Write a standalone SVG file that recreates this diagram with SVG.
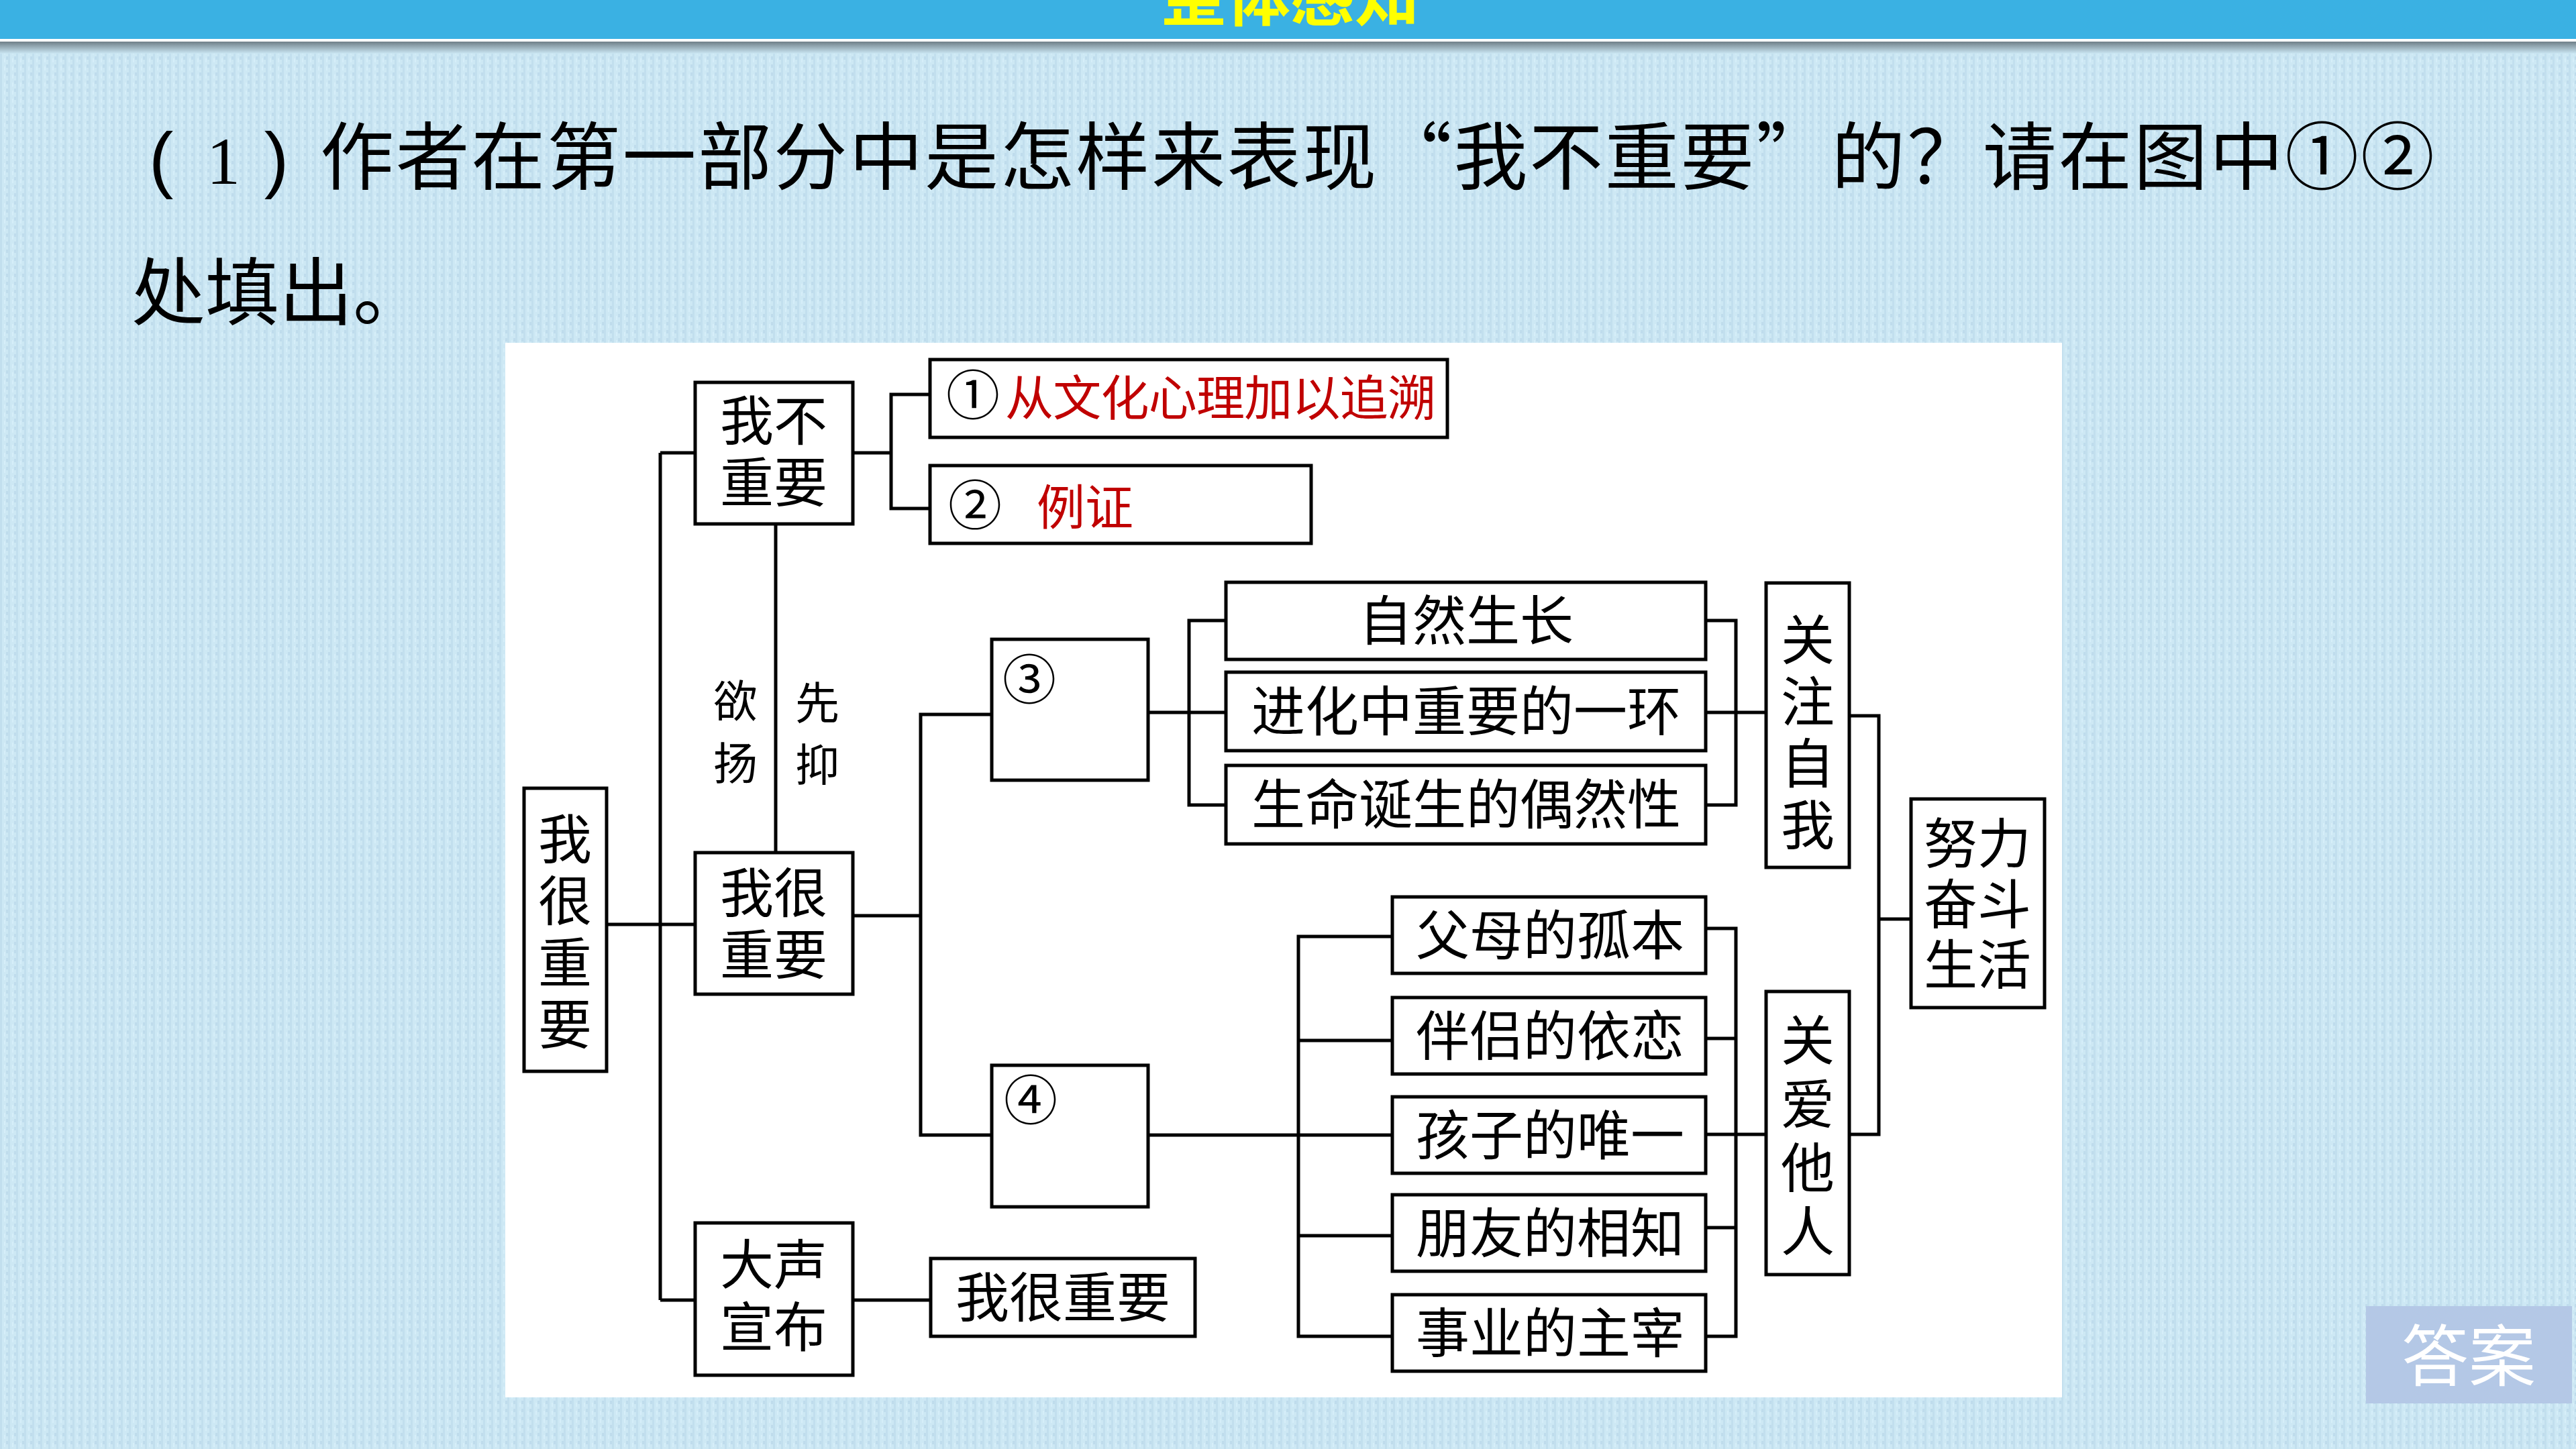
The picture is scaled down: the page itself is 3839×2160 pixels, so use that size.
<svg xmlns="http://www.w3.org/2000/svg" width="3839" height="2160" viewBox="0 0 3839 2160">
<defs>
<linearGradient id="shadow" x1="0" y1="0" x2="0" y2="1">
<stop offset="0" stop-color="#6f7f88"/>
<stop offset="1" stop-color="#cae6f3"/>
</linearGradient>
<pattern id="tex" width="12" height="12" patternUnits="userSpaceOnUse">
<rect width="12" height="12" fill="#cde8f4"/>
<rect x="0" y="0" width="3" height="12" fill="#c2dfee"/>
<rect x="6" y="3" width="2" height="6" fill="#d6eef9"/>
<rect x="9" y="0" width="3" height="5" fill="#bfdcec"/>
</pattern>
</defs>
<style>
.box{fill:#ffffff;stroke:#000000;stroke-width:5}
.t{font-family:"Noto Sans CJK SC","Noto Sans",sans-serif;font-size:80px;fill:#000000}
.tm{text-anchor:middle}
.v{writing-mode:vertical-rl;text-anchor:middle}
.red{fill:#c00000;font-size:72px}
.num{font-size:80px}
.lbl{font-size:66px}
.q{font-family:"Noto Sans CJK SC","Noto Sans",sans-serif;font-size:110px;fill:#000000}
.conn{fill:none;stroke:#000000;stroke-width:5}
</style>
<rect x="0" y="0" width="3839" height="2160" fill="url(#tex)"/>
<g id="header">
<rect x="0" y="0" width="3839" height="58" fill="#3ab1e3"/>
<rect x="0" y="58" width="3839" height="4" fill="#ffffff"/>
<rect x="0" y="62" width="3839" height="18" fill="url(#shadow)"/>
<text x="1923" y="30" text-anchor="middle" style="font-family:'Noto Sans CJK SC',sans-serif;font-size:96px;font-weight:700;fill:#ffff00">整体感知</text>
</g>
<g id="question">
<text x="240" y="274" text-anchor="middle" style="font-family:'Liberation Sans',sans-serif;font-size:110px;fill:#000">(</text>
<text x="333" y="274" text-anchor="middle" style="font-family:'Liberation Serif',serif;font-size:100px;fill:#000">1</text>
<text x="412" y="274" text-anchor="middle" style="font-family:'Liberation Sans',sans-serif;font-size:110px;fill:#000">)</text>
<text x="477" y="274" class="q" textLength="3151" lengthAdjust="spacing">作者在第一部分中是怎样来表现“我不重要”的？请在图中①②</text>
<text x="196" y="476" class="q">处填出。</text>
</g>
<rect id="panel" x="753" y="511" width="2320" height="1572" fill="#ffffff"/>
<g id="connectors">
<path class="conn" d="M1271,675 H1328 M1386,588 H1328 V758 H1386"/>
<path class="conn" d="M984,675 V1938 M984,675 H1036 M904,1378 H1036 M984,1938 H1036"/>
<path class="conn" d="M1156,781 V1271"/>
<path class="conn" d="M1271,1365 H1372 M1478,1065 H1372 V1692 H1478"/>
<path class="conn" d="M1711,1062 H1827 M1827,925 H1772 V1200 H1827"/>
<path class="conn" d="M2542,925 H2587 V1200 H2542 M2542,1062 H2632"/>
<path class="conn" d="M2756,1067 H2800 V1691 H2756 M2800,1370 H2848"/>
<path class="conn" d="M1711,1692 H2075 M2075,1396 H1935 V1992 H2075 M1935,1551 H2075 M1935,1842 H2075"/>
<path class="conn" d="M2542,1384 H2587 V1992 H2542 M2587,1548 H2542 M2587,1830 H2542 M2542,1691 H2632"/>
<path class="conn" d="M1271,1938 H1387"/>
</g>
<g id="n_wohenzhongyao_v">
<rect class="box" x="781" y="1175" width="123" height="422"/>
<text class="t v" x="842" y="1394" style="letter-spacing:12px">我很重要</text>
</g>
<g id="n_wobuzhongyao">
<rect class="box" x="1036" y="570" width="235" height="211"/>
<text class="t tm" x="1153" y="656">我不<tspan x="1153" dy="92">重要</tspan></text>
</g>
<g id="n_1">
<rect class="box" x="1386" y="536" width="771" height="116"/>
<text class="t num" x="1410" y="618">①</text>
<text class="t red" x="1498" y="619" textLength="642" lengthAdjust="spacing">从文化心理加以追溯</text>
</g>
<g id="n_2">
<rect class="box" x="1386" y="694" width="568" height="116"/>
<text class="t num" x="1413" y="782">②</text>
<text class="t red" x="1545" y="782">例证</text>
</g>
<g id="label_yuyang">
<text class="t lbl v" x="1096" y="1104" style="letter-spacing:27px">欲扬</text>
</g>
<g id="label_xianyi">
<text class="t lbl v" x="1218" y="1106" style="letter-spacing:26px">先抑</text>
</g>
<g id="n_wohen">
<rect class="box" x="1036" y="1271" width="235" height="211"/>
<text class="t tm" x="1153" y="1360">我很<tspan x="1153" dy="92">重要</tspan></text>
</g>
<g id="n_dasheng">
<rect class="box" x="1036" y="1823" width="235" height="227"/>
<text class="t tm" x="1153" y="1914">大声<tspan x="1153" dy="93">宣布</tspan></text>
</g>
<g id="n_final">
<rect class="box" x="1387" y="1876" width="394" height="116"/>
<text class="t tm" x="1584" y="1963">我很重要</text>
</g>
<g id="n_3">
<rect class="box" x="1478" y="953" width="233" height="210"/>
<text class="t num tm" x="1534" y="1042">③</text>
</g>
<g id="n_4">
<rect class="box" x="1478" y="1588" width="233" height="211"/>
<text class="t num tm" x="1536" y="1669">④</text>
</g>
<g id="n_ziran">
<rect class="box" x="1827" y="868" width="715" height="115"/>
<text class="t tm" x="2185" y="954">自然生长</text>
</g>
<g id="n_jinhua">
<rect class="box" x="1827" y="1002" width="715" height="117"/>
<text class="t tm" x="2185" y="1089">进化中重要的一环</text>
</g>
<g id="n_shengming">
<rect class="box" x="1827" y="1141" width="715" height="117"/>
<text class="t tm" x="2185" y="1228">生命诞生的偶然性</text>
</g>
<g id="n_guanzhu">
<rect class="box" x="2632" y="869" width="124" height="424"/>
<text class="t v" x="2694" y="1097" style="letter-spacing:12px">关注自我</text>
</g>
<g id="n_fumu">
<rect class="box" x="2075" y="1337" width="467" height="114"/>
<text class="t tm" x="2310" y="1423">父母的孤本</text>
</g>
<g id="n_banlv">
<rect class="box" x="2075" y="1487" width="467" height="114"/>
<text class="t tm" x="2310" y="1573">伴侣的依恋</text>
</g>
<g id="n_haizi">
<rect class="box" x="2075" y="1635" width="467" height="114"/>
<text class="t tm" x="2310" y="1721">孩子的唯一</text>
</g>
<g id="n_pengyou">
<rect class="box" x="2075" y="1781" width="467" height="114"/>
<text class="t tm" x="2310" y="1867">朋友的相知</text>
</g>
<g id="n_shiye">
<rect class="box" x="2075" y="1930" width="467" height="114"/>
<text class="t tm" x="2310" y="2016">事业的主宰</text>
</g>
<g id="n_guanai">
<rect class="box" x="2632" y="1478" width="124" height="422"/>
<text class="t v" x="2694" y="1700" style="letter-spacing:15px">关爱他人</text>
</g>
<g id="n_nuli">
<rect class="box" x="2848" y="1191" width="199" height="311"/>
<text class="t tm" x="2947" y="1286">努力<tspan x="2947" dy="91">奋斗</tspan><tspan x="2947" dy="90">生活</tspan></text>
</g>
<g id="answer_button">
<rect x="3526" y="1947" width="307" height="145" fill="#b4c8e6"/>
<text x="3679" y="2058" text-anchor="middle" style="font-family:'Noto Sans CJK SC',sans-serif;font-size:100px;fill:#ffffff">答案</text>
</g>
</svg>
